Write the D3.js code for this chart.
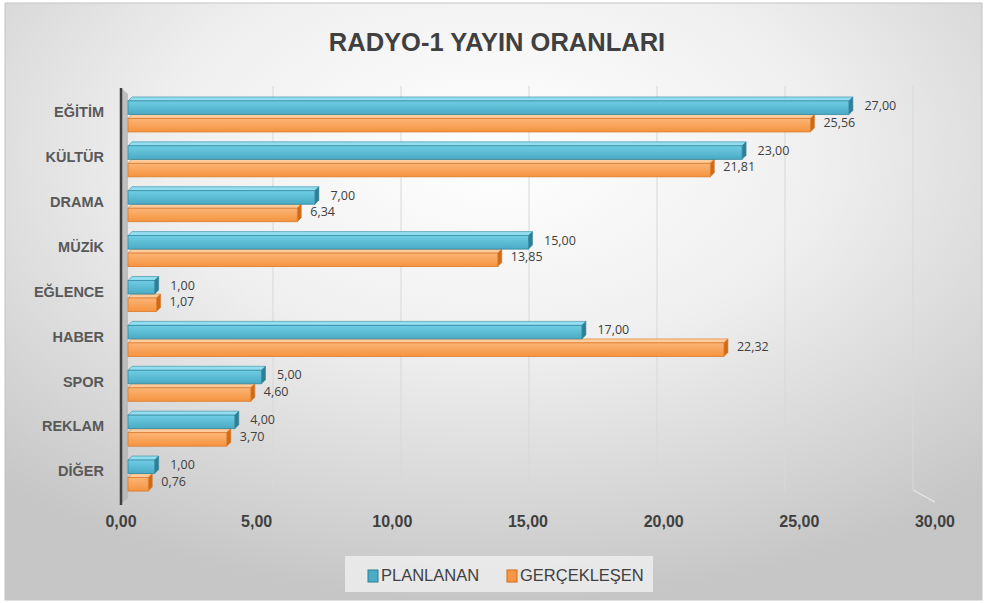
<!DOCTYPE html>
<html><head><meta charset="utf-8">
<script src="https://cdn.jsdelivr.net/npm/d3@7"></script>
<style>html,body{margin:0;padding:0;background:#fff;}svg{display:block;}</style>
</head><body>
<svg id="c" width="987" height="603"></svg>
<script>
const categories = ["EĞİTİM","KÜLTÜR","DRAMA","MÜZİK","EĞLENCE","HABER","SPOR","REKLAM","DİĞER"];
const planlanan = [27,23,7,15,1,17,5,4,1];
const gerceklesen = [25.56,21.81,6.34,13.85,1.07,22.32,4.60,3.70,0.76];
const seriesNames = ["PLANLANAN","GERÇEKLEŞEN"];
const tickValues = [0,5,10,15,20,25,30];
const titleText = "RADYO-1 YAYIN ORANLARI";

const loc = d3.formatLocale({decimal:",",thousands:".",grouping:[3],currency:["","₺"]});
const fmt = loc.format(".2f");

const svg = d3.select("#c");
const defs = svg.append("defs");
const rg = defs.append("radialGradient").attr("id","bg").attr("cx","50%").attr("cy","25%").attr("r","75%");
rg.append("stop").attr("offset","0%").attr("stop-color","#ffffff");
rg.append("stop").attr("offset","45%").attr("stop-color","#efefef");
rg.append("stop").attr("offset","100%").attr("stop-color","#c6c6c6");
function lg(id,c1,c2){const g=defs.append("linearGradient").attr("id",id).attr("x1",0).attr("y1",0).attr("x2",0).attr("y2",1);
 g.append("stop").attr("offset","0%").attr("stop-color",c1);g.append("stop").attr("offset","100%").attr("stop-color",c2);}
lg("gBlue","#6fcee4","#4aaac4");
lg("gOrange","#fcb577","#f5933f");

svg.append("rect").attr("x",5).attr("y",3).attr("width",977).attr("height",597)
  .attr("fill","url(#bg)").attr("stroke","#c4c4c4");

// scales
const xFront = d3.scaleLinear().domain([0,30]).range([128,929]);
const xBack = d3.scaleLinear().domain([0,30]).range([145,913]);
const xTick = d3.scaleLinear().domain([0,30]).range([121,935]);
const y0 = d3.scaleBand().domain(categories).range([92,496]).paddingInner(0.22).paddingOuter(0.11);
const y1 = d3.scaleBand().domain(seriesNames).range([0,y0.bandwidth()]);
const d = 4;

// gridlines (back wall)
svg.append("g").selectAll("line").data(tickValues.slice(1)).join("line")
  .attr("x1",v=>xBack(v)).attr("x2",v=>xBack(v)).attr("y1",86).attr("y2",490)
  .attr("stroke","#d8d8d8").attr("stroke-width",1);
svg.append("line").attr("x1",xBack(30)).attr("y1",490).attr("x2",xTick(30)).attr("y2",502)
  .attr("stroke","#e8e8e8").attr("stroke-width",1.2);

// side wall + axis
svg.append("polygon").attr("points",[[121,88],[128,94],[128,498],[121,504]].join(" "))
  .attr("fill","#b4b4b4").attr("opacity",0.8);
svg.append("line").attr("x1",121).attr("x2",121).attr("y1",88).attr("y2",505)
  .attr("stroke","#3f3f3f").attr("stroke-width",2.5);

// title
svg.append("text").attr("x",497).attr("y",51).attr("text-anchor","middle")
  .attr("font-family","Liberation Sans, sans-serif").attr("font-weight","bold")
  .attr("font-size",25.5).attr("fill","#404040").text(titleText);

// bars
const styles = {
  "PLANLANAN":{front:"url(#gBlue)",top:"#92def0",side:"#2e7f96",stroke:"#358aa2",solid:"#4bacc6"},
  "GERÇEKLEŞEN":{front:"url(#gOrange)",top:"#fdcb9c",side:"#cf6a16",stroke:"#dc7b2c",solid:"#f79646"}
};
const rows = categories.map((c,i)=>({cat:c, vals:[{s:"PLANLANAN",v:planlanan[i]},{s:"GERÇEKLEŞEN",v:gerceklesen[i]}]}));
const gBars = svg.append("g");
rows.forEach(r=>{
  const g = gBars.append("g");
  [r.vals[1], r.vals[0]].forEach(o=>{
    const st = styles[o.s];
    const yt = y0(r.cat)+y1(o.s)+d;
    const h = y1.bandwidth()-d;
    const xa = xFront(0), xb = xFront(o.v);
    g.append("polygon").attr("points",[[xa,yt],[xa+d,yt-d],[xb+d,yt-d],[xb,yt]].join(" "))
      .attr("fill",st.top).attr("stroke",st.stroke).attr("stroke-width",0.6);
    g.append("polygon").attr("points",[[xb,yt],[xb+d,yt-d],[xb+d,yt+h-d],[xb,yt+h]].join(" "))
      .attr("fill",st.side).attr("stroke",st.stroke).attr("stroke-width",0.6);
    g.append("rect").attr("x",xa).attr("y",yt).attr("width",xb-xa).attr("height",h)
      .attr("fill",st.front).attr("stroke",st.stroke).attr("stroke-width",0.8);
  });
  r.vals.forEach(o=>{
    const yt = y0(r.cat)+y1(o.s)+d;
    const h = y1.bandwidth()-d;
    const isBlue = o.s==="PLANLANAN";
    svg.append("text").attr("x",xFront(o.v)+(isBlue?15.5:13)).attr("y",yt+h/2-(isBlue?1:2))
      .attr("dominant-baseline","middle").attr("font-family","Open Sans, sans-serif")
      .attr("font-size",12.5).attr("fill","#404040").text(fmt(o.v));
  });
});

// category labels
svg.append("g").selectAll("text").data(categories).join("text")
  .attr("x",104).attr("y",c=>y0(c)+y0.bandwidth()/2-1).attr("text-anchor","end")
  .attr("dominant-baseline","middle").attr("font-family","Liberation Sans, sans-serif")
  .attr("font-weight","bold").attr("font-size",14.5).attr("fill","#595959").text(c=>c);

// x tick labels
svg.append("g").selectAll("text").data(tickValues).join("text")
  .attr("x",v=>xTick(v)).attr("y",523).attr("text-anchor","middle").attr("dominant-baseline","middle")
  .attr("font-family","Liberation Sans, sans-serif").attr("font-weight","bold")
  .attr("font-size",16).attr("fill","#404040").text(v=>fmt(v));

// legend
const lgG = svg.append("g");
lgG.append("rect").attr("x",345).attr("y",556).attr("width",308).attr("height",36).attr("fill","#ededed").attr("opacity",0.85);
const legX = [368, 507];
seriesNames.forEach((s,i)=>{
  const st = styles[s];
  lgG.append("rect").attr("x",legX[i]).attr("y",570).attr("width",10).attr("height",12)
    .attr("fill",st.solid).attr("stroke",st.side).attr("stroke-width",1);
  lgG.append("text").attr("x",legX[i]+13).attr("y",577).attr("dominant-baseline","middle")
    .attr("font-family","Liberation Sans, sans-serif")
    .attr("font-size",16.5).attr("fill","#404040").text(s);
});
</script>
</body></html>
